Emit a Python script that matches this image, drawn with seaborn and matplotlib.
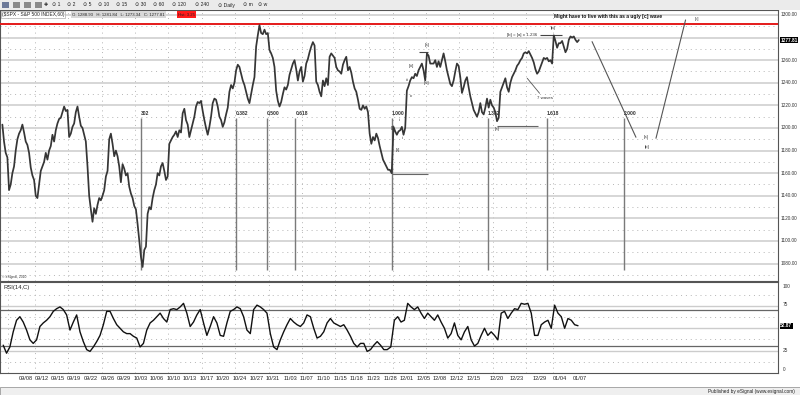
import numpy as np
import pandas as pd
import seaborn as sns
import matplotlib.pyplot as plt
from matplotlib.patches import Rectangle

# sessions on the chart (60 min bars, 7 a session, 11/25 was a half session)
sep_days = ['09/02', '09/06', '09/07', '09/08', '09/09', '09/12', '09/13', '09/14', '09/15', '09/16',
            '09/19', '09/20', '09/21', '09/22', '09/23', '09/26', '09/27', '09/28', '09/29', '09/30']
oct_days = ['10/03', '10/04', '10/05', '10/06', '10/07', '10/10', '10/11', '10/12', '10/13', '10/14',
            '10/17', '10/18', '10/19', '10/20', '10/21', '10/24', '10/25', '10/26', '10/27', '10/28', '10/31']
nov_days = ['11/01', '11/02', '11/03', '11/04', '11/07', '11/08', '11/09', '11/10', '11/11', '11/14',
            '11/15', '11/16', '11/17', '11/18', '11/21', '11/22', '11/23', '11/25', '11/28', '11/29', '11/30']
dec_days = ['12/01', '12/02', '12/05', '12/06', '12/07', '12/08', '12/09', '12/12', '12/13', '12/14',
            '12/15', '12/16', '12/19', '12/20', '12/21', '12/22', '12/23', '12/27', '12/28', '12/29', '12/30']
jan_days = ['01/03', '01/04', '01/05', '01/06']
half_day = '11/25'

# $SPX, 4 readings a session (2 in the half session)
sep_px = [1203, 1188, 1178, 1174, 1145, 1150, 1160, 1166, 1180, 1190, 1195, 1198, 1203, 1196, 1188, 1185,
          1178, 1165, 1158, 1154, 1140, 1138, 1150, 1162, 1166, 1170, 1178, 1172, 1180, 1184, 1194, 1188,
          1198, 1204, 1208, 1209, 1214, 1219, 1215, 1216, 1192, 1195, 1201, 1204, 1214, 1219, 1210, 1202,
          1200, 1194, 1188, 1166, 1140, 1128, 1117, 1129, 1124, 1132, 1138, 1136, 1140, 1145, 1157, 1162,
          1190, 1195, 1186, 1175, 1180, 1175, 1166, 1152, 1168, 1164, 1158, 1160, 1148, 1142, 1138, 1131]
oct_px = [1128, 1115, 1100, 1086, 1077, 1092, 1095, 1124, 1130, 1128, 1138, 1145, 1150, 1160, 1158, 1166,
          1169, 1162, 1154, 1157, 1186, 1189, 1192, 1194, 1197, 1192, 1198, 1196, 1213, 1217, 1207, 1203,
          1192, 1198, 1204, 1210, 1219, 1223, 1222, 1224, 1215, 1207, 1200, 1194, 1201, 1210, 1222, 1226,
          1225, 1219, 1210, 1207, 1201, 1205, 1212, 1218, 1232, 1238, 1235, 1240, 1251, 1256, 1254, 1248,
          1242, 1238, 1232, 1226, 1222, 1230, 1238, 1245, 1272, 1282, 1291, 1284, 1283, 1287, 1283, 1284,
          1269, 1266, 1262, 1254]
nov_px = [1233, 1224, 1219, 1223, 1230, 1236, 1234, 1238, 1247, 1252, 1257, 1260, 1252, 1242, 1250, 1254,
          1241, 1246, 1257, 1261, 1267, 1272, 1276, 1273, 1241, 1238, 1232, 1228, 1242, 1237, 1244, 1238,
          1263, 1266, 1264, 1262, 1254, 1251, 1250, 1248, 1256, 1260, 1263, 1251, 1254, 1249, 1241, 1235,
          1232, 1225, 1217, 1216, 1220, 1217, 1219, 1214, 1195, 1186, 1192, 1189, 1195, 1191, 1184, 1178,
          1172, 1169, 1166, 1163, 1163, 1160, 1201, 1197, 1194, 1197, 1198, 1201, 1194, 1200,
          1233, 1237, 1242, 1245]
dec_px = [1244, 1248, 1246, 1251, 1254, 1257, 1251, 1242, 1266, 1264, 1257, 1257, 1257, 1260, 1254, 1259,
          1254, 1260, 1266, 1259, 1251, 1245, 1239, 1237, 1242, 1250, 1257, 1255, 1245, 1231, 1236, 1242,
          1245, 1236, 1228, 1222, 1216, 1213, 1210, 1214, 1222, 1214, 1212, 1218, 1226, 1218, 1225, 1220,
          1218, 1214, 1206, 1209, 1232, 1236, 1240, 1244, 1236, 1232, 1240, 1245, 1248, 1251, 1255, 1257,
          1260, 1262, 1266, 1267, 1266, 1268, 1265, 1262, 1258, 1252, 1248, 1250, 1254, 1258, 1262, 1261,
          1262, 1259, 1260, 1257]
jan_px = [1282, 1277, 1271, 1275, 1275, 1277, 1272, 1267, 1270, 1278, 1281, 1280, 1281, 1278, 1276, 1277.81]

# RSI(14,C), 2 readings a session (1 in the half session)
sep_rsi = [31, 22, 29, 46, 59, 63, 57, 48, 37, 33, 37, 52, 56, 59, 63, 69, 72, 74, 71, 65,
           48, 57, 65, 46, 35, 26, 24, 29, 35, 42, 54, 69, 69, 61, 54, 50, 46, 44, 44, 41]
oct_rsi = [39, 29, 33, 48, 56, 59, 63, 67, 61, 57, 71, 72, 71, 74, 78, 67, 52, 57, 65, 71, 56,
           42, 52, 63, 56, 42, 41, 56, 69, 71, 74, 72, 63, 48, 44, 71, 76, 74, 71, 67, 44, 29]
nov_rsi = [26, 37, 46, 54, 61, 57, 54, 52, 56, 65, 63, 50, 39, 41, 46, 56, 61, 56, 54, 52, 54,
           48, 41, 33, 29, 33, 33, 24, 26, 31, 35, 31, 26, 26, 29, 59, 63, 57, 59, 78, 74]
dec_rsi = [71, 74, 67, 61, 67, 63, 59, 65, 57, 50, 39, 44, 56, 42, 37, 46, 52, 37, 30, 33, 42,
           50, 42, 46, 42, 37, 67, 69, 61, 67, 72, 71, 78, 77, 78, 67, 42, 42, 54, 57, 59, 50]
jan_rsi = [76, 67, 63, 50, 61, 59, 54, 52.87]

# time scale labels and where they sit (bar index, evenly spread like the terminal does)
date_labels = ['09/08', '09/12', '09/15', '09/19', '09/22', '09/26', '09/29', '10/03', '10/06', '10/10',
               '10/13', '10/17', '10/20', '10/24', '10/27', '10/31', '11/03', '11/07', '11/10', '11/15',
               '11/18', '11/23', '11/28', '12/01', '12/05', '12/08', '12/12', '12/15', '12/20', '12/23',
               '12/29', '01/04', '01/07']
date_pos = [25.7, 42.5, 59.2, 76, 93.8, 111.6, 128.4, 146.2, 163, 180.8, 197.6, 215.4, 232.2, 250, 267.8,
            284.6, 302.4, 319.2, 337, 354.8, 371.6, 389.4, 407.2, 425, 442.9, 459.6, 477.5, 495.3, 519.4,
            540.4, 564.5, 585.4, 606.4]
week_starts = ['09/06', '09/12', '09/19', '09/26', '10/03', '10/10', '10/17', '10/24', '10/31', '11/07',
               '11/14', '11/21', '11/28', '12/05', '12/12', '12/19', '12/27', '01/03']

# fibonacci time lines (bar index) and their labels
fib_bar = [146, 246, 278, 308, 409, 510, 572, 652]
fib_txt = ['302', '0.382', '0.500', '0.618', '1.000', '1.382', '1.618', '2.000']
# projected [a]-[b]-[c] path drawn to the right of the data
proj_bar = [[619, 665], [686, 717]]
proj_val = [[1276.4, 1191.8], [1190.9, 1295.6]]
red_level = 1292.0

days = sep_days + oct_days + nov_days + dec_days + jan_days
price = sep_px + oct_px + nov_px + dec_px + jan_px
rsi = sep_rsi + oct_rsi + nov_rsi + dec_rsi + jan_rsi

nbars = np.array([4 if d == half_day else 7 for d in days])
start = np.concatenate([[0], np.cumsum(nbars)[:-1]])


def spread(per_day):
    out = []
    for s, n in zip(start, nbars):
        k = per_day if n == 7 else per_day // 2
        out.extend(s + (np.arange(k) + 0.5) * n / k)
    return np.array(out)


df_px = pd.DataFrame({'bar': spread(4), 'close': price})
df_rsi = pd.DataFrame({'bar': spread(2), 'rsi': rsi})

sns.set_theme(style='white')
plt.rcParams['font.family'] = ['Liberation Sans', 'DejaVu Sans']

W, H = 800, 395
fig = plt.figure(figsize=(8, 3.95), dpi=100)


def box(x0, y0, x1, y1):
    return [x0 / W, 1 - y1 / H, (x1 - x0) / W, (y1 - y0) / H]


# window chrome
fig.patches.append(Rectangle((0, 1 - 9.5 / H), 1, 9.5 / H, transform=fig.transFigure,
                             facecolor='#ebebeb', edgecolor='none', zorder=0))
fig.patches.append(Rectangle((0, 0), 1, 8.5 / H, transform=fig.transFigure,
                             facecolor='#efefef', edgecolor='#9a9a9a', lw=0.6, zorder=0))

ax = fig.add_axes(box(0, 10, 778, 281))
axr = fig.add_axes(box(0, 282, 778, 373.3))

for a in (ax, axr):
    a.set_xlim(-1.6, 813.9)
    for sp in a.spines.values():
        sp.set_color('#555555')
        sp.set_linewidth(0.8)
    a.set_xticks([])
    a.set_yticks([])
    for w in week_starts:
        a.axvline(start[days.index(w)], color='#b5b5b5', lw=0.7, ls=(0, (1, 4)), zorder=1)

ax.set_ylim(1064.6, 1304.4)
axr.set_ylim(-0.6, 102)

# price pane grid
for lv in range(1080, 1301, 20):
    ax.axhline(lv, color='#cccccc', lw=1.1, zorder=1)
for lv in range(1070, 1300, 20):
    ax.axhline(lv, color='#b5b5b5', lw=0.7, ls=(0, (1, 4)), zorder=1)
ax.axhline(red_level, color='#e41a1a', lw=1.4, zorder=3)

sns.lineplot(data=df_px, x='bar', y='close', ax=ax, color='#363636', lw=1.25,
             estimator=None, sort=False, zorder=4)
ax.set_xlabel('')
ax.set_ylabel('')

# fib time lines
for b, t in zip(fib_bar, fib_txt):
    ax.vlines(b, 1074, 1209, color='#7a7a7a', lw=1.0, zorder=2)
    ax.text(b, 1211, t, fontsize=3.6, fontweight='bold', color='#333333', ha='left', va='bottom')

for bx, vy in zip(proj_bar, proj_val):
    ax.plot(bx, vy, color='#555555', lw=0.8, zorder=3)

# wave marks
ax.hlines(1159.3, 409, 447, color='#666666', lw=0.8)
ax.hlines(1201.8, 519, 562, color='#666666', lw=0.8)
ax.hlines(1282.3, 564, 587, color='#444444', lw=0.8)
ax.hlines(1267.5, 438, 447, color='#444444', lw=0.8)
ax.plot([551, 564], [1244, 1230.7], color='#555555', lw=0.6)

lab = dict(fontsize=3.2, color='#333333', ha='center', va='center')
ax.text(729, 1296.5, '[c]', **lab)
ax.text(578, 1288.8, '[b]', **lab)
ax.text(562, 1282.3, '[b] = [a] x 1.236', fontsize=3.2, color='#333333', ha='right', va='center')
ax.text(446, 1273.5, '[a]', **lab)
ax.text(430, 1255.1, '[iii]', **lab)
ax.text(425, 1242.5, 'iii', **lab)
ax.text(446, 1239.6, '[iv]', **lab)
ax.text(430, 1228.3, 'iv', **lab)
ax.text(417, 1207, 'i', **lab)
ax.text(410, 1200, '[i]', **lab)
ax.text(421, 1191, 'ii', **lab)
ax.text(415, 1180.5, '[ii]', **lab)
ax.text(520, 1199, '[a]', **lab)
ax.text(570, 1226.5, '7 waves', **lab)
ax.text(676, 1191.8, '[a]', **lab)
ax.text(677, 1183.5, '[b]', **lab)
ax.text(635.7, 1298.4, 'Might have to live with this as a ugly [c] wave', fontsize=3.6,
        fontweight='bold', color='#111111', ha='center', va='center')
ax.text(1, 1068.5, '\u00a9 eSignal, 2010', fontsize=2.4, color='#333333', ha='left', va='center')

# price scale
for lv in [1300, 1260, 1240, 1220, 1200, 1180, 1160, 1140, 1120, 1100, 1080]:
    ax.text(1.003, lv, f'{lv:.2f}', transform=ax.get_yaxis_transform(), fontsize=3.4,
            color='#333333', ha='left', va='center', clip_on=False)
ax.text(1.003, price[-1], f'{price[-1]:.2f}', transform=ax.get_yaxis_transform(), fontsize=3.4,
        color='white', fontweight='bold', ha='left', va='center', clip_on=False,
        bbox=dict(boxstyle='square,pad=0.15', fc='black', ec='none'))

# RSI pane
for lv in (25, 50, 75):
    axr.axhline(lv, color='#cccccc', lw=1.0, zorder=1)
for lv in (30, 70):
    axr.axhline(lv, color='#666666', lw=0.9, zorder=1)
for lv in (12.5, 37.5, 62.5, 87.5):
    axr.axhline(lv, color='#b5b5b5', lw=0.7, ls=(0, (1, 4)), zorder=1)

sns.lineplot(data=df_rsi, x='bar', y='rsi', ax=axr, color='#111111', lw=1.0,
             estimator=None, sort=False, zorder=4)
axr.set_xlabel('')
axr.set_ylabel('')
axr.text(2, 96, 'RSI(14,C)', fontsize=4.2, color='#222222', ha='left', va='center')

for t, y in [('100', 97.5), ('75', 76.5), ('25', 25.5), ('0', 4)]:
    axr.text(1.006, y, t, transform=axr.get_yaxis_transform(), fontsize=3.4, color='#333333',
             ha='left', va='center', clip_on=False)
axr.text(1.003, rsi[-1], f'{rsi[-1]:.2f}', transform=axr.get_yaxis_transform(), fontsize=3.4,
         color='white', fontweight='bold', ha='left', va='center', clip_on=False,
         bbox=dict(boxstyle='square,pad=0.15', fc='black', ec='none'))

# date scale
axr.set_xticks(date_pos)
axr.set_xticklabels(date_labels)
axr.tick_params(axis='x', length=0, pad=1.8, labelsize=4.1, labelcolor='#222222')

# header rows
tools = ['1', '2', '5', '10', '15', '30', '60', '120', '240', 'Daily', 'm', 'w']
tx = [52, 67, 83, 98, 116, 135, 153, 172, 195, 218, 243, 258]
for t, x in zip(tools, tx):
    fig.text(x / W, 1 - 5 / H, '\u2299 ' + t, fontsize=3.6, color='#222222', va='center', ha='left')
for i, x in enumerate([2, 13, 24, 35]):
    fig.patches.append(Rectangle((x / W, 1 - 8 / H), 7 / W, 6 / H, transform=fig.transFigure,
                                 facecolor='#6d7a99' if i == 0 else '#8a8a8a', edgecolor='none'))
fig.text(44 / W, 1 - 5 / H, '\u271a', fontsize=3.6, color='#222222', va='center')

fig.text(2 / W, 1 - 14.5 / H, '($SPX - S&P 500 INDEX,60)', fontsize=3.5, color='#222222', va='center',
         bbox=dict(boxstyle='square,pad=0.2', fc='white', ec='#999999', lw=0.4))
fig.text(72 / W, 1 - 14.5 / H, 'O: 1288.93   H: 1281.84   L: 1273.34   C: 1277.81', fontsize=3.1,
         color='#222222', va='center',
         bbox=dict(boxstyle='square,pad=0.25', fc='#d9d9d9', ec='none'))
fig.text(178 / W, 1 - 14.5 / H, 'Hst: 3.25', fontsize=3.1, color='#222222', va='center',
         bbox=dict(boxstyle='square,pad=0.25', fc='#ff1a1a', ec='none'))

fig.text(795 / W, 1 - 391 / H, 'Published by eSignal (www.esignal.com)', fontsize=3.4,
         color='#222222', ha='right', va='center')

fig.savefig('out.png', dpi=100)
